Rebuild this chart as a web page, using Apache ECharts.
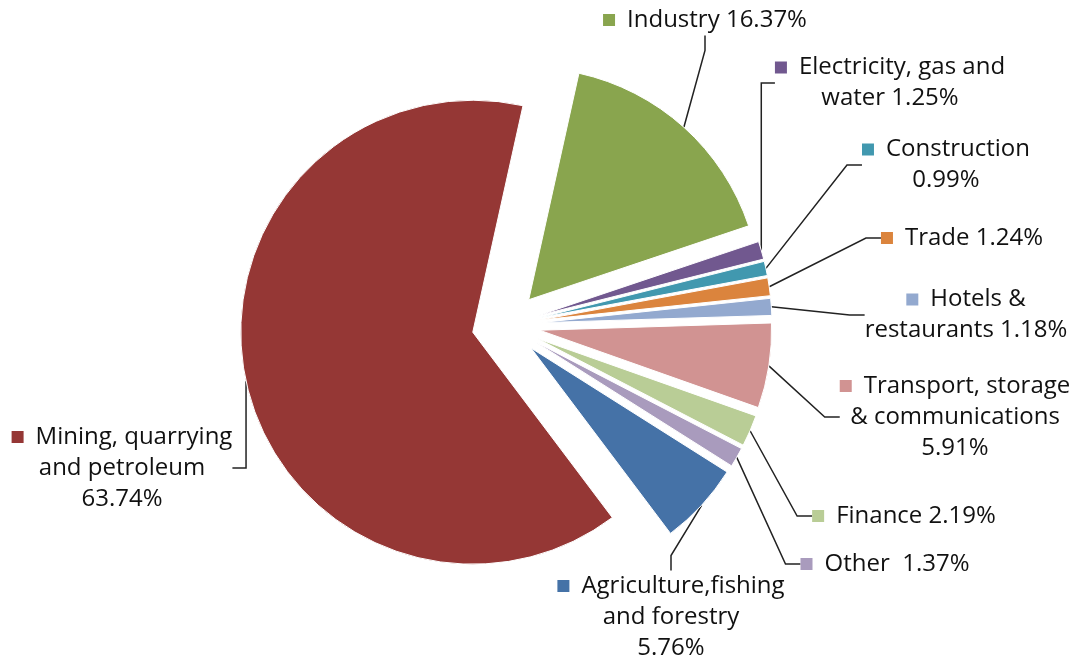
<!DOCTYPE html>
<html>
<head>
<meta charset="utf-8">
<script src="https://cdn.jsdelivr.net/npm/echarts@6/dist/echarts.min.js"></script>
<style>
  html, body { margin: 0; padding: 0; background: #fff; }
  #chart { width: 1086px; height: 663px; }
</style>
</head>
<body>
<div id="chart"></div>
<script>
// slices in clockwise order, starting just right of 12 o'clock
const sectors = [
  'Industry', 'Electricity, gas and water', 'Construction', 'Trade',
  'Hotels & restaurants', 'Transport, storage & communications', 'Finance',
  'Other', 'Agriculture,fishing and forestry', 'Mining, quarrying and petroleum'
]
const shares = [16.37, 1.25, 0.99, 1.24, 1.18, 5.91, 2.19, 1.37, 5.76, 63.74]
// how each label text wraps (value is appended after it)
const labelText = [
  'Industry ', 'Electricity, gas and\nwater ', 'Construction\n', 'Trade ',
  'Hotels &\nrestaurants ', 'Transport, storage\n& communications\n', 'Finance ',
  'Other  ', 'Agriculture,fishing\nand forestry\n', 'Mining, quarrying\nand petroleum\n'
]
const colors = [
  '#89A54E', '#71588F', '#4198AF', '#DB843D', '#93A9CF',
  '#D19392', '#B9CD96', '#A99BBD', '#4572A7', '#953735'
]
// label block centres (layout only)
const labelAnchors = [
  [705, 20], [890, 83], [946, 165], [962, 238], [966, 315],
  [955, 417], [904, 516], [885, 564], [671, 617], [122, 468]
]

const CX = 506, CY = 325, R = 232, EXPLODE = 34, START = 77.5

const chart = echarts.init(document.getElementById('chart'))

const rich = { gap: { width: 12 } }
colors.forEach((c, i) => {
  rich['s' + i] = { width: 12, height: 12, backgroundColor: c, verticalAlign: 'middle' }
})

const total = shares.reduce((a, b) => a + b, 0)

// exploded pie: one pie series per slice, each shifted out along the slice's middle angle
let cum = 0
const series = shares.map((v, k) => {
  const mid = (-START + (cum + v / 2) / total * 360) * Math.PI / 180
  cum += v
  return {
    type: 'pie',
    silent: true,
    center: [CX + EXPLODE * Math.cos(mid), CY + EXPLODE * Math.sin(mid)],
    radius: R,
    startAngle: START,
    clockwise: true,
    avoidLabelOverlap: false,
    emphasis: { disabled: true },
    label: {
      show: true,
      position: 'outside',
      color: '#111',
      fontFamily: 'Open Sans',
      fontSize: 24,
      lineHeight: 31,
      rich: rich,
      formatter: p => '{s' + p.dataIndex + '|}{gap|}' + labelText[p.dataIndex] + p.value.toFixed(2) + '%'
    },
    labelLine: {
      show: true,
      length: 15,
      length2: 15,
      lineStyle: { color: '#222', width: 1.5 }
    },
    labelLayout: p => ({
      x: labelAnchors[p.dataIndex][0],
      y: labelAnchors[p.dataIndex][1],
      align: 'center',
      verticalAlign: 'middle'
    }),
    data: sectors.map((name, i) => ({
      name: name,
      value: shares[i],
      itemStyle: i === k
        ? { color: colors[i], borderColor: '#fff', borderWidth: 1 }
        : { color: 'transparent', borderWidth: 0 },
      label: { show: i === k },
      labelLine: { show: i === k }
    }))
  }
})

chart.setOption({ animation: false, series: series })
</script>
</body>
</html>
